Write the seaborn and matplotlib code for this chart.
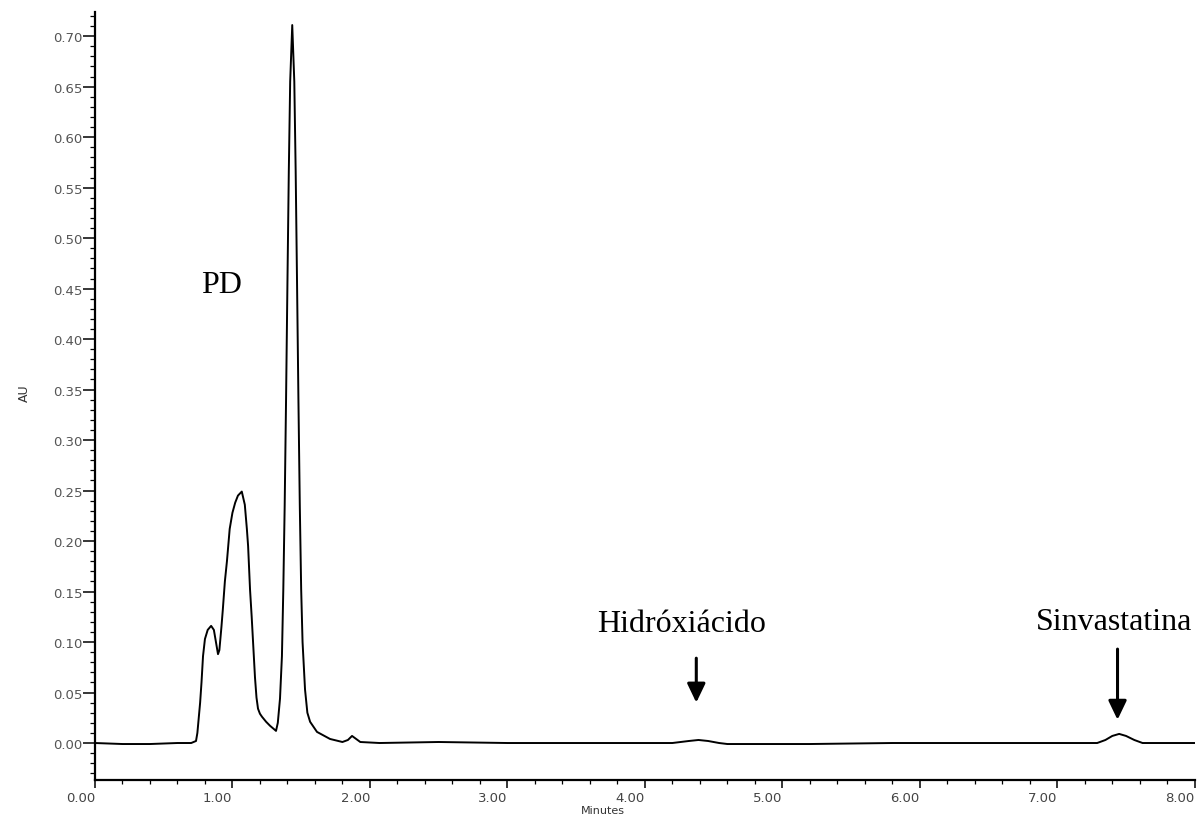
import matplotlib
matplotlib.use("Agg")
import matplotlib.pyplot as plt
import seaborn as sns
import pandas as pd
from matplotlib.ticker import MultipleLocator, FormatStrFormatter

# Chromatogram trace (minutes, AU)
time_min = [0.00, 0.20, 0.40, 0.60, 0.70, 0.735, 0.745, 0.755, 0.765, 0.775, 0.786, 0.80, 0.82, 0.845,
            0.865, 0.88, 0.895, 0.905, 0.92, 0.93, 0.945, 0.96, 0.98, 1.00, 1.02, 1.04, 1.068, 1.09,
            1.105, 1.114, 1.128, 1.14, 1.152, 1.164, 1.175, 1.186, 1.20, 1.215, 1.245, 1.274, 1.30, 1.317,
            1.33, 1.346, 1.36, 1.37, 1.38, 1.39, 1.40, 1.41, 1.42, 1.435, 1.45, 1.46, 1.47, 1.48,
            1.49, 1.50, 1.51, 1.528, 1.545, 1.565, 1.615, 1.71, 1.80, 1.84, 1.87, 1.90, 1.93, 2.07,
            2.50, 3.00, 3.50, 4.00, 4.20, 4.26, 4.32, 4.39, 4.46, 4.54, 4.60, 4.80, 5.20, 5.80,
            6.40, 7.00, 7.29, 7.35, 7.40, 7.45, 7.50, 7.56, 7.62, 7.80, 8.00]
absorb_au = [0.000, -0.001, -0.001, 0.000, 0.000, 0.002, 0.010, 0.025, 0.040, 0.060, 0.086, 0.103, 0.112, 0.116,
             0.112, 0.100, 0.088, 0.092, 0.115, 0.132, 0.160, 0.180, 0.212, 0.228, 0.238, 0.245, 0.249, 0.236,
             0.212, 0.195, 0.152, 0.125, 0.095, 0.065, 0.045, 0.034, 0.029, 0.026, 0.021, 0.017, 0.014, 0.012,
             0.020, 0.044, 0.086, 0.152, 0.235, 0.340, 0.455, 0.566, 0.655, 0.711, 0.655, 0.566, 0.455, 0.340,
             0.235, 0.152, 0.100, 0.053, 0.030, 0.021, 0.011, 0.004, 0.001, 0.003, 0.007, 0.004, 0.001, 0.000,
             0.001, 0.000, 0.000, 0.000, 0.000, 0.001, 0.002, 0.003, 0.002, 0.000, -0.001, -0.001, -0.001, 0.000,
             0.000, 0.000, 0.000, 0.003, 0.007, 0.009, 0.007, 0.003, 0.000, 0.000, 0.000]

x_ticks = [0, 1, 2, 3, 4, 5, 6, 7, 8]
y_ticks = [0.00, 0.05, 0.10, 0.15, 0.20, 0.25, 0.30, 0.35, 0.40, 0.45, 0.50, 0.55, 0.60, 0.65, 0.70]

labels = ["PD", "Hidróxiácido", "Sinvastatina"]
label_x = [0.917, 4.265, 7.416]
label_y = [0.4465, 0.111, 0.113]
arrow_x = [4.374, 7.438]
arrow_top = [0.084, 0.093]
arrow_tip = [0.040, 0.023]

df = pd.DataFrame({"Minutes": time_min, "AU": absorb_au})

sns.set_style("ticks")
plt.rcParams["font.family"] = ["DejaVu Sans"]

fig = plt.figure(figsize=(12.02, 8.20), dpi=100)
ax = fig.add_axes([0.079, 0.0476, 0.915, 0.9364])

sns.lineplot(data=df, x="Minutes", y="AU", ax=ax, color="black", linewidth=1.4)

ax.set_xlim(0, 8.0)
ax.set_ylim(-0.0366, 0.7238)
ax.set_xticks(x_ticks)
ax.set_yticks(y_ticks)
ax.xaxis.set_major_formatter(FormatStrFormatter("%.2f"))
ax.yaxis.set_major_formatter(FormatStrFormatter("%.2f"))
ax.xaxis.set_minor_locator(MultipleLocator(0.2))
ax.yaxis.set_minor_locator(MultipleLocator(0.01))

for s in ["top", "right"]:
    ax.spines[s].set_visible(False)
for s in ["left", "bottom"]:
    ax.spines[s].set_linewidth(1.6)
    ax.spines[s].set_color("black")

ax.tick_params(axis="x", which="major", length=5.8, width=1.1, color="black",
               labelsize=9.5, labelcolor="#444444", direction="out", pad=2)
ax.tick_params(axis="x", which="minor", length=2.9, width=0.9, color="black", direction="out")
ax.tick_params(axis="y", which="major", length=8.5, width=1.1, color="black",
               labelsize=9.5, labelcolor="#555555", direction="out", pad=0.5)
ax.tick_params(axis="y", which="minor", length=3.6, width=0.9, color="black", direction="out")
for lab in ax.get_xticklabels():
    lab.set_horizontalalignment("right")

ax.set_xlabel("Minutes", fontsize=8, color="#333333")
ax.set_ylabel("AU", fontsize=9, color="#333333")
ax.xaxis.set_label_coords(0.4615, -0.032)
ax.yaxis.set_label_coords(-0.058, 0.505)

for t, lx, ly in zip(labels, label_x, label_y):
    ax.text(lx, ly, t, fontsize=23, family="Liberation Serif", ha="center", va="baseline", color="black")

for ax_x, top, tip in zip(arrow_x, arrow_top, arrow_tip):
    ax.annotate("", xy=(ax_x, tip), xytext=(ax_x, top),
                arrowprops=dict(arrowstyle="-|>,head_length=1.15,head_width=0.55", color="black",
                                lw=2.2, shrinkA=0, shrinkB=0))

fig.savefig("out.png", dpi=100)
